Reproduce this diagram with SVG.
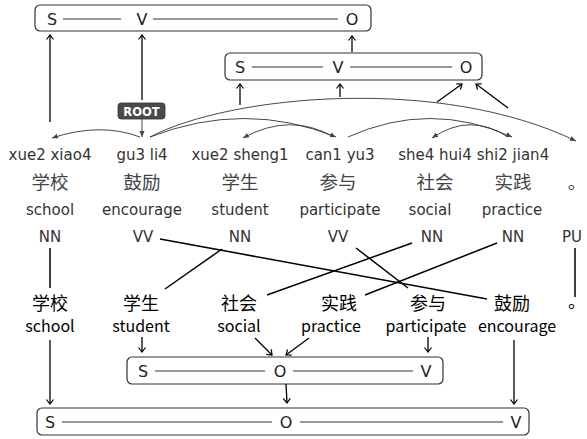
<svg xmlns="http://www.w3.org/2000/svg" width="587" height="439" viewBox="0 0 587 439">
<style>
.box{fill:#fff;stroke:#333;stroke-width:1.2}
.bt{font-family:"DejaVu Sans",sans-serif;font-size:16px;fill:#222;text-anchor:middle}
.dash{stroke:#333;stroke-width:1}
.py{font-family:"DejaVu Sans",sans-serif;font-size:15px;fill:#333;text-anchor:middle}
.zh{font-family:"Noto Sans CJK SC",sans-serif;font-size:18.5px;fill:#444;text-anchor:middle}
.zh2{font-family:"Noto Sans CJK SC",sans-serif;font-size:18px;fill:#000;text-anchor:middle}
.en2{font-family:"Noto Sans CJK SC",sans-serif;font-size:16px;fill:#000;text-anchor:middle}
.arr{stroke:#000;stroke-width:1.3;fill:none;marker-end:url(#oa)}
.arc{stroke:#333;stroke-width:0.9;fill:none;marker-end:url(#ta)}
.ln{stroke:#000;stroke-width:1.5;fill:none}
</style>
<defs>
<marker id="oa" markerUnits="userSpaceOnUse" markerWidth="12" markerHeight="12" refX="6" refY="6" orient="auto">
<path d="M1.5,2.5 L6,6 L1.5,9.5" fill="none" stroke="#000" stroke-width="1.2"/>
</marker>
<marker id="ta" markerUnits="userSpaceOnUse" markerWidth="10" markerHeight="10" refX="6" refY="5" orient="auto">
<path d="M0,2.5 L6,5 L0,7.5 Z" fill="#444"/>
</marker>
</defs>

<g id="box1">
<rect class="box" x="35" y="5" width="336" height="26" rx="5"/>
<text class="bt" x="52" y="25">S</text>
<line class="dash" x1="63" y1="19" x2="121" y2="19"/>
<text class="bt" x="142" y="25">V</text>
<line class="dash" x1="153" y1="19" x2="338" y2="19"/>
<text class="bt" x="352" y="25">O</text>
</g>
<g id="box2">
<rect class="box" x="225" y="53" width="257" height="27" rx="5"/>
<text class="bt" x="240" y="73">S</text>
<line class="dash" x1="252" y1="67" x2="323" y2="67"/>
<text class="bt" x="338" y="73">V</text>
<line class="dash" x1="350" y1="67" x2="452" y2="67"/>
<text class="bt" x="466" y="73">O</text>
</g>
<g id="root">
<rect x="118" y="103" width="47" height="16" rx="3" fill="#4a4a4a" stroke="#333" stroke-width="0.8"/>
<text x="141.5" y="115.5" font-family="DejaVu Sans, sans-serif" font-size="11.5" font-weight="bold" fill="#fff" text-anchor="middle">ROOT</text>
</g>

<g id="words-top">
<text class="py" x="50" y="160">xue2 xiao4</text>
<text class="py" x="142" y="160">gu3 li4</text>
<text class="py" x="240" y="160">xue2 sheng1</text>
<text class="py" x="340" y="160">can1 yu3</text>
<text class="py" x="435" y="160">she4 hui4</text>
<text class="py" x="513" y="160">shi2 jian4</text>
<text class="zh" x="50" y="189">学校</text>
<text class="zh" x="142" y="189">鼓励</text>
<text class="zh" x="240" y="189">学生</text>
<text class="zh" x="338" y="189">参与</text>
<text class="zh" x="435" y="189">社会</text>
<text class="zh" x="513" y="189">实践</text>
<text class="zh" x="577" y="189">。</text>
<text class="py" x="50" y="215">school</text>
<text class="py" x="142" y="215">encourage</text>
<text class="py" x="240" y="215">student</text>
<text class="py" x="340" y="215">participate</text>
<text class="py" x="430" y="215">social</text>
<text class="py" x="512" y="215">practice</text>
<text class="py" x="50" y="242">NN</text>
<text class="py" x="143" y="242">VV</text>
<text class="py" x="240" y="242">NN</text>
<text class="py" x="338" y="242">VV</text>
<text class="py" x="432" y="242">NN</text>
<text class="py" x="513" y="242">NN</text>
<text class="py" x="572" y="242">PU</text>
</g>

<g id="words-bottom">
<text class="zh2" x="50" y="310">学校</text>
<text class="en2" x="50" y="332">school</text>
<text class="zh2" x="141" y="310">学生</text>
<text class="en2" x="141" y="332">student</text>
<text class="zh2" x="239" y="310">社会</text>
<text class="en2" x="239" y="332">social</text>
<text class="zh2" x="339" y="310">实践</text>
<text class="en2" x="331" y="332">practice</text>
<text class="zh2" x="428" y="310">参与</text>
<text class="en2" x="426" y="332">participate</text>
<text class="zh2" x="512" y="310">鼓励</text>
<text class="en2" x="517" y="332">encourage</text>
<text class="zh2" x="577" y="308">。</text>
</g>

<g id="box3">
<rect class="box" x="127" y="357" width="316" height="27" rx="5"/>
<text class="bt" x="143" y="377">S</text>
<line class="dash" x1="155" y1="371" x2="265" y2="371"/>
<text class="bt" x="280" y="377">O</text>
<line class="dash" x1="293" y1="371" x2="413" y2="371"/>
<text class="bt" x="426" y="377">V</text>
</g>
<g id="box4">
<rect class="box" x="37" y="408" width="492" height="27" rx="5"/>
<text class="bt" x="50" y="428">S</text>
<line class="dash" x1="62" y1="422" x2="272" y2="422"/>
<text class="bt" x="286" y="428">O</text>
<line class="dash" x1="300" y1="422" x2="503" y2="422"/>
<text class="bt" x="516" y="428">V</text>
</g>

<g id="connectors">
<line class="arr" x1="50" y1="122" x2="50" y2="35"/>
<line class="arr" x1="142" y1="100" x2="142" y2="35"/>
<line class="arr" x1="352" y1="52" x2="352" y2="36"/>
<line class="arr" x1="240" y1="105" x2="240" y2="84"/>
<line class="arr" x1="340" y1="97" x2="340" y2="84"/>
<line class="arr" x1="437" y1="102" x2="462" y2="84"/>
<line class="arr" x1="508" y1="108" x2="476" y2="84"/>
<line class="arc" x1="142" y1="119" x2="142" y2="137"/>
<path class="arc" d="M140,137 Q100,122 52,138"/>
<path class="arc" d="M150,137 Q245,100 336,137"/>
<path class="arc" d="M334,137 Q290,112 243,138"/>
<path class="arc" d="M150,137 C230,95 440,75 576,141"/>
<path class="arc" d="M348,137 Q430,100 512,137"/>
<path class="arc" d="M508,137 Q470,112 432,138"/>
<line class="ln" x1="50" y1="248" x2="50" y2="288"/>
<line class="ln" x1="160" y1="239" x2="487" y2="299"/>
<line class="ln" x1="222" y1="249" x2="165" y2="289"/>
<line class="ln" x1="356" y1="248" x2="408" y2="288"/>
<line class="ln" x1="412" y1="243" x2="267" y2="295"/>
<line class="ln" x1="497" y1="243" x2="365" y2="295"/>
<line class="ln" x1="575" y1="248" x2="575" y2="297"/>
<line class="arr" x1="50" y1="340" x2="50" y2="404"/>
<line class="arr" x1="142" y1="337" x2="142" y2="352"/>
<line class="arr" x1="255" y1="338" x2="272" y2="355"/>
<line class="arr" x1="309" y1="338" x2="286" y2="355"/>
<line class="arr" x1="428" y1="337" x2="428" y2="352"/>
<line class="arr" x1="514" y1="340" x2="514" y2="404"/>
<line class="arr" x1="286" y1="384" x2="287" y2="403"/>
</g>
</svg>
